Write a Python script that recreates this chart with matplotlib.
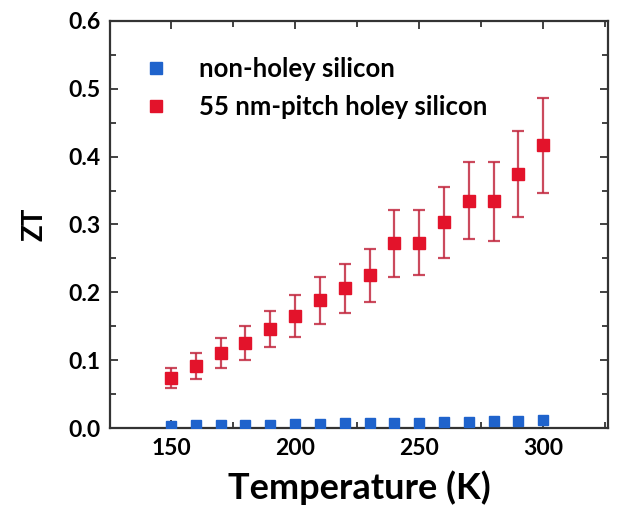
import matplotlib
matplotlib.use('Agg')
import matplotlib.pyplot as plt
from matplotlib.ticker import MultipleLocator, FormatStrFormatter

# data
temps = [150, 160, 170, 180, 190, 200, 210, 220, 230, 240, 250, 260, 270, 280, 290, 300]
zt_holey = [0.074, 0.092, 0.111, 0.126, 0.146, 0.165, 0.188, 0.206, 0.225,
            0.272, 0.273, 0.303, 0.335, 0.334, 0.374, 0.417]
zt_holey_err = [0.015, 0.019, 0.022, 0.025, 0.026, 0.031, 0.034, 0.036, 0.039,
                0.049, 0.048, 0.052, 0.057, 0.058, 0.063, 0.070]
zt_bulk = [0.003, 0.004, 0.004, 0.005, 0.005, 0.006, 0.006, 0.007, 0.007,
           0.008, 0.008, 0.009, 0.009, 0.010, 0.011, 0.012]

plt.rcParams['font.family'] = ['Lato', 'DejaVu Sans']
plt.rcParams['font.weight'] = 'bold'

fig = plt.figure(figsize=(6.19, 5.09), dpi=100)
ax = fig.add_axes([0.178, 0.159, 0.804, 0.8])

red = '#e3132b'
blue = '#1f63cc'

ax.errorbar(temps, zt_holey, yerr=zt_holey_err, fmt='none', ecolor='#c22a40',
            elinewidth=1.6, capsize=4.5, capthick=1.6, alpha=0.85, zorder=2)
ax.plot(temps, zt_bulk, 's', color=blue, markersize=7, label='non-holey silicon', zorder=3)
ax.plot(temps, zt_holey, 's', color=red, markersize=8.5, label='55 nm-pitch holey silicon', zorder=3)

ax.set_xlim(125.5, 326)
ax.set_ylim(0, 0.6)
ax.xaxis.set_major_locator(MultipleLocator(50))
ax.xaxis.set_minor_locator(MultipleLocator(25))
ax.yaxis.set_major_locator(MultipleLocator(0.1))
ax.yaxis.set_minor_locator(MultipleLocator(0.05))
ax.yaxis.set_major_formatter(FormatStrFormatter('%.1f'))

ax.tick_params(which='both', direction='in', top=True, right=True,
               color='#333333', width=1.3, labelsize=16.5, pad=7)
ax.tick_params(which='major', length=6)
ax.tick_params(which='minor', length=4)

for s in ax.spines.values():
    s.set_linewidth(1.6)
    s.set_color('#333333')

ax.set_xlabel('Temperature (K)', fontsize=26, fontweight='bold', labelpad=8)
ax.set_ylabel('ZT', fontsize=20, fontweight='bold', labelpad=15)

leg = ax.legend(loc='upper left', bbox_to_anchor=(0.05, 0.936), borderaxespad=0,
                frameon=False, fontsize=18.5, handlelength=0.8, handletextpad=1.3,
                labelspacing=0.55)
for h in leg.legend_handles:
    h.set_markersize(8)

fig.savefig('out.png', dpi=100)
